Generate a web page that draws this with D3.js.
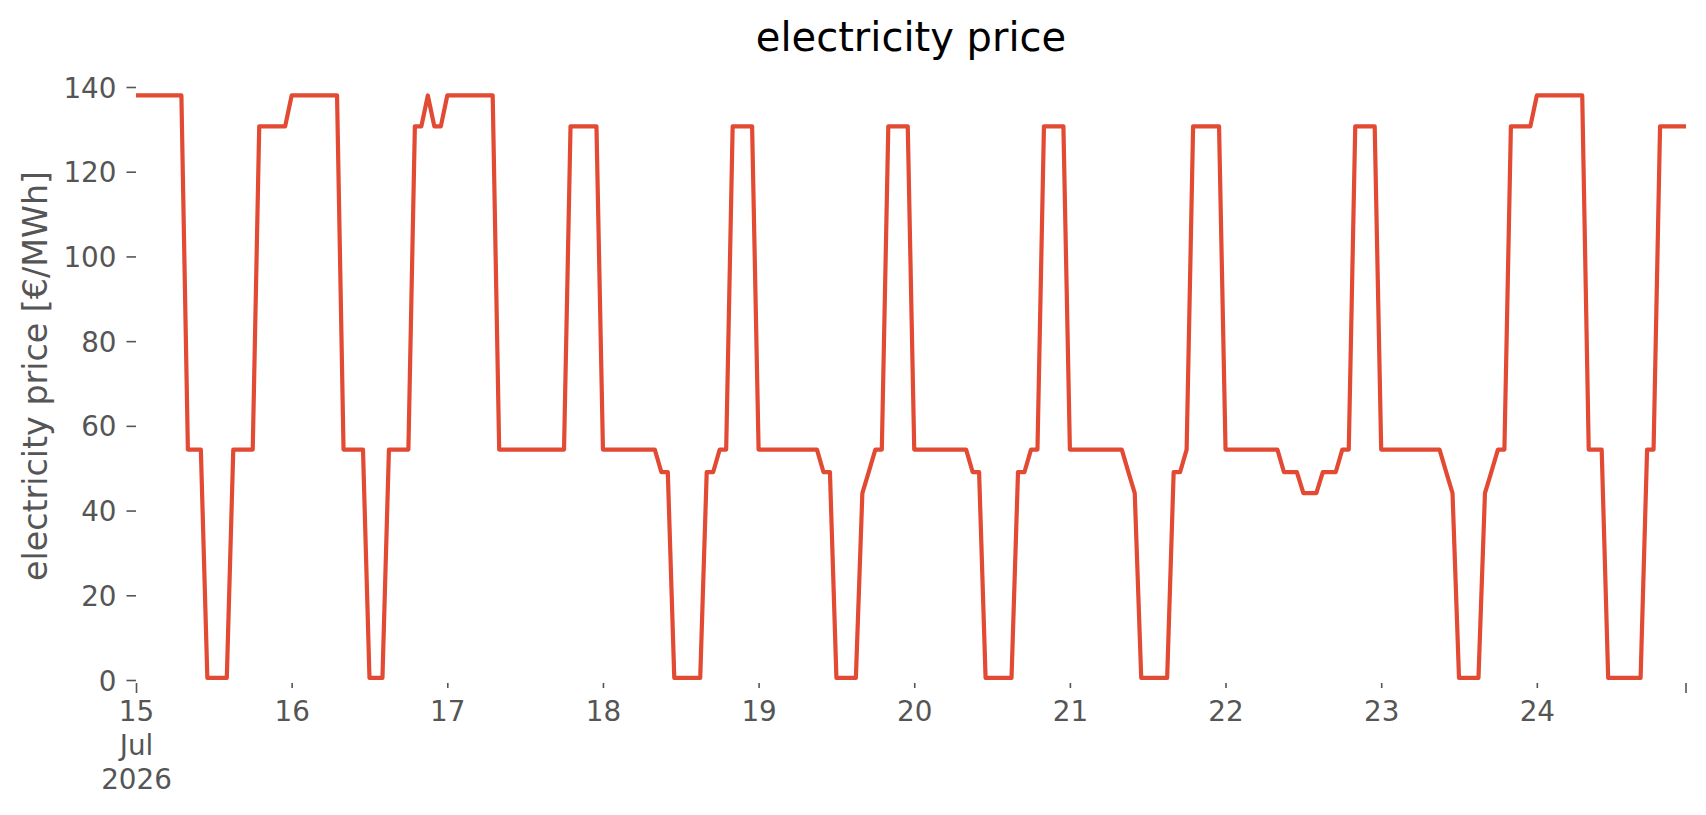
<!DOCTYPE html>
<html>
<head>
<meta charset="utf-8">
<script src="https://cdn.jsdelivr.net/npm/d3@7"></script>
<style>
  html, body { margin: 0; padding: 0; background: #ffffff; }
  svg { display: block; font-family: "DejaVu Sans", sans-serif; }
</style>
</head>
<body>
<svg id="chart" width="1706" height="815"></svg>
<script>
// ---------------- data (hourly electricity price, €/MWh) ----------------
const startDate = "2026-07-15T00:00:00Z";
const jul15 = [138,138,138,138,138,138,138,138, 54.4,54.4,54.4, 0.5,0.5,0.5,0.5, 54.4,54.4,54.4,54.4, 130.7,130.7,130.7,130.7,130.7];
const jul16 = [138,138,138,138,138,138,138,138, 54.4,54.4,54.4,54.4, 0.5,0.5,0.5, 54.4,54.4,54.4,54.4, 130.7,130.7, 138, 130.7,130.7];
const jul17 = [138,138,138,138,138,138,138,138, 54.4,54.4,54.4,54.4,54.4,54.4,54.4,54.4,54.4,54.4,54.4, 130.7,130.7,130.7,130.7,130.7];
const jul18 = [54.4,54.4,54.4,54.4,54.4,54.4,54.4,54.4,54.4, 49.1,49.1, 0.5,0.5,0.5,0.5,0.5, 49.1,49.1, 54.4,54.4, 130.7,130.7,130.7,130.7];
const jul19 = [54.4,54.4,54.4,54.4,54.4,54.4,54.4,54.4,54.4,54.4, 49.1,49.1, 0.5,0.5,0.5,0.5, 44.1, 49.2, 54.4,54.4, 130.7,130.7,130.7,130.7];
const jul20 = [54.4,54.4,54.4,54.4,54.4,54.4,54.4,54.4,54.4, 49.1,49.1, 0.5,0.5,0.5,0.5,0.5, 49.1,49.1, 54.4,54.4, 130.7,130.7,130.7,130.7];
const jul21 = [54.4,54.4,54.4,54.4,54.4,54.4,54.4,54.4,54.4, 49.2, 44.1, 0.5,0.5,0.5,0.5,0.5, 49.1,49.1, 54.4, 130.7,130.7,130.7,130.7,130.7];
const jul22 = [54.4,54.4,54.4,54.4,54.4,54.4,54.4,54.4,54.4, 49.1,49.1,49.1, 44.1,44.1,44.1, 49.1,49.1,49.1, 54.4,54.4, 130.7,130.7,130.7,130.7];
const jul23 = [54.4,54.4,54.4,54.4,54.4,54.4,54.4,54.4,54.4,54.4, 49.2, 44.1, 0.5,0.5,0.5,0.5, 44.1, 49.2, 54.4,54.4, 130.7,130.7,130.7,130.7];
const jul24 = [138,138,138,138,138,138,138,138, 54.4,54.4,54.4, 0.5,0.5,0.5,0.5,0.5,0.5, 54.4,54.4, 130.7,130.7,130.7,130.7,130.7];

const dayTickDates = ["2026-07-15","2026-07-16","2026-07-17","2026-07-18","2026-07-19","2026-07-20","2026-07-21","2026-07-22","2026-07-23","2026-07-24"];
const dayTickLabels = [["15","Jul","2026"],["16"],["17"],["18"],["19"],["20"],["21"],["22"],["23"],["24"]];
const yTickValues = [0,20,40,60,80,100,120,140];
const titleText = "electricity price";
const yLabelText = "electricity price [€/MWh]";

// ---------------- assemble series ----------------
const prices = [].concat(jul15, jul16, jul17, jul18, jul19, jul20, jul21, jul22, jul23, jul24);
const t0 = new Date(startDate).getTime();
const series = prices.map((v, i) => ({ t: new Date(t0 + i * 3600 * 1000), v: v }));

// ---------------- layout ----------------
const plotLeft = 136, plotRight = 1686, plotTop = 69, plotBottom = 683;
const svg = d3.select("#chart");
const textGray = "#555555";
const lineColor = "#E24A33";

const x = d3.scaleUtc()
  .domain([series[0].t, series[series.length - 1].t])
  .range([plotLeft, plotRight]);
const y = d3.scaleLinear()
  .domain([0, 140])
  .range([680, 87]);

// clip
svg.append("defs").append("clipPath").attr("id", "plotclip")
  .append("rect").attr("x", plotLeft).attr("y", plotTop - 4)
  .attr("width", plotRight - plotLeft).attr("height", plotBottom - plotTop + 4);

// ---------------- y axis ----------------
const yAxis = d3.axisLeft(y).tickValues(yTickValues).tickSize(9.5).tickPadding(10)
  .tickFormat(d3.format("d"));
const gy = svg.append("g").attr("transform", `translate(${plotLeft},0)`).call(yAxis);
gy.select(".domain").remove();
gy.selectAll(".tick line").attr("stroke", textGray).attr("stroke-width", 1.6);
gy.selectAll(".tick text").attr("fill", textGray).style("font-size", "27.8px")
  .style("font-family", "DejaVu Sans").attr("dy", "0.36em");

// ---------------- x axis ----------------
const dayDates = dayTickDates.map(s => new Date(s + "T00:00:00Z"));
const xAxis = d3.axisBottom(x).tickValues(dayDates).tickSize(5).tickFormat("");
const gx = svg.append("g").attr("transform", `translate(0,${plotBottom})`).call(xAxis);
gx.select(".domain").remove();
gx.selectAll(".tick line")
  .attr("stroke", textGray).attr("stroke-width", 1.6)
  .attr("y2", (d, i) => i === 0 ? 10 : 5);
gx.selectAll(".tick text").remove();
gx.selectAll(".tick").each(function(d, i) {
  const t = d3.select(this).append("text")
    .attr("fill", textGray).attr("text-anchor", "middle")
    .style("font-size", "27.8px").style("font-family", "DejaVu Sans");
  dayTickLabels[i].forEach((line, j) => {
    t.append("tspan").attr("x", 0).attr("y", 37.7 + j * 34).text(line);
  });
});
// end-of-range major tick (no label)
svg.append("line")
  .attr("x1", x(series[series.length - 1].t)).attr("x2", x(series[series.length - 1].t))
  .attr("y1", plotBottom).attr("y2", plotBottom + 10)
  .attr("stroke", textGray).attr("stroke-width", 1.6);

// ---------------- line ----------------
const lineGen = d3.line().x(d => x(d.t)).y(d => y(d.v));
svg.append("path")
  .datum(series)
  .attr("clip-path", "url(#plotclip)")
  .attr("d", lineGen)
  .attr("fill", "none")
  .attr("stroke", lineColor)
  .attr("stroke-width", 4.2)
  .attr("stroke-linejoin", "round")
  .attr("stroke-linecap", "butt");

// ---------------- labels ----------------
svg.append("text")
  .attr("x", (plotLeft + plotRight) / 2).attr("y", 51)
  .attr("text-anchor", "middle").attr("fill", "#000000")
  .style("font-size", "40px").style("font-family", "DejaVu Sans")
  .text(titleText);

svg.append("text")
  .attr("transform", `translate(47,${(plotTop + plotBottom) / 2}) rotate(-90)`)
  .attr("text-anchor", "middle").attr("fill", textGray)
  .style("font-size", "33.3px").style("font-family", "DejaVu Sans")
  .text(yLabelText);
</script>
</body>
</html>
